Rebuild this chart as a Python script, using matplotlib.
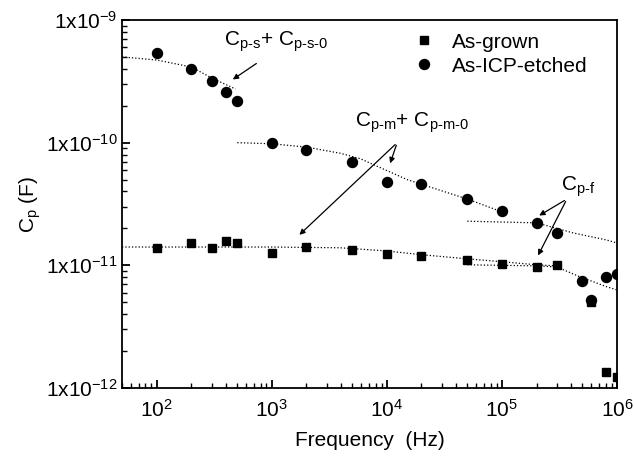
import numpy as np
import matplotlib
matplotlib.use('Agg')
import matplotlib.pyplot as plt

plt.rcParams['font.family'] = 'Liberation Sans'
plt.rcParams['mathtext.fontset'] = 'custom'
plt.rcParams['mathtext.rm'] = 'Liberation Sans'
plt.rcParams['mathtext.it'] = 'Liberation Sans'
plt.rcParams['mathtext.default'] = 'regular'

# As-grown (squares)
grown_f = [100, 200, 300, 400, 500, 1e3, 2e3, 5e3, 1e4, 2e4, 5e4, 1e5, 2e5, 3e5, 6e5, 8e5, 1e6]
grown_c = [1.39e-11, 1.52e-11, 1.39e-11, 1.58e-11, 1.52e-11, 1.26e-11, 1.41e-11, 1.34e-11,
           1.24e-11, 1.19e-11, 1.10e-11, 1.03e-11, 9.7e-12, 1.0e-11, 5.0e-12, 1.35e-12, 1.23e-12]

# As-ICP-etched (circles)
etched_f = [100, 200, 300, 400, 500, 1e3, 2e3, 5e3, 1e4, 2e4, 5e4, 1e5, 2e5, 3e5, 5e5, 6e5, 8e5, 1e6]
etched_c = [5.38e-10, 4.0e-10, 3.18e-10, 2.6e-10, 2.19e-10, 1.0e-10, 8.7e-11, 6.97e-11,
            4.8e-11, 4.6e-11, 3.47e-11, 2.77e-11, 2.22e-11, 1.84e-11, 7.46e-12, 5.2e-12, 8.0e-12, 8.5e-12]

# fitted curves (dotted)
fit_s_f = [50, 100, 200, 300, 484]
fit_s_c = [5.0e-10, 4.72e-10, 4.14e-10, 3.37e-10, 2.74e-10]

fit_m_etched_f = [502, 1e3, 2e3, 3.94e3, 5.88e3, 1.5e4, 5e4, 1e5]
fit_m_etched_c = [1.0e-10, 9.8e-11, 9.2e-11, 8.2e-11, 7.4e-11, 5.0e-11, 3.47e-11, 2.73e-11]

fit_f_etched_f = [5e4, 2e5, 4.14e5, 8.1e5, 1e6]
fit_f_etched_c = [2.29e-11, 2.22e-11, 1.84e-11, 1.61e-11, 1.52e-11]

fit_m_grown_f = [50, 1e3, 3.94e3, 1e4, 2e4, 5e4, 1e5, 2e5, 3e5]
fit_m_grown_c = [1.41e-11, 1.41e-11, 1.39e-11, 1.31e-11, 1.22e-11, 1.13e-11, 1.07e-11, 1.01e-11, 9.9e-12]

fit_f_grown_f = [5e4, 2e5, 3e5, 4.7e5, 8.1e5, 1e6]
fit_f_grown_c = [1.01e-11, 9.9e-12, 9.7e-12, 8.1e-12, 6.7e-12, 6.3e-12]

fig = plt.figure(figsize=(6.34, 4.59), dpi=100)
ax = fig.add_axes([122/634, 1 - 388/459, (617 - 122)/634, (388 - 20)/459])

dot = dict(color='black', linestyle=':', linewidth=0.9)
for f, c in [(fit_s_f, fit_s_c), (fit_m_etched_f, fit_m_etched_c), (fit_f_etched_f, fit_f_etched_c),
             (fit_m_grown_f, fit_m_grown_c), (fit_f_grown_f, fit_f_grown_c)]:
    ax.plot(f, c, **dot)

ax.plot(grown_f, grown_c, 's', color='black', markersize=6.3, label='As-grown', linestyle='none')
ax.plot(etched_f, etched_c, 'o', color='black', markersize=7.2, label='As-ICP-etched', linestyle='none')

ax.set_xscale('log')
ax.set_yscale('log')
ax.set_xlim(50, 1e6)
ax.set_ylim(1e-12, 1e-9)

ax.set_xticks([1e2, 1e3, 1e4, 1e5, 1e6])
ax.set_xticklabels([r'$10^2$', r'$10^3$', r'$10^4$', r'$10^5$', r'$10^6$'])
ax.set_yticks([1e-12, 1e-11, 1e-10, 1e-9])
ax.set_yticklabels([r'1x10$^{-12}$', r'1x10$^{-11}$', r'1x10$^{-10}$', r'1x10$^{-9}$'])

ax.tick_params(which='both', direction='in', top=False, right=False, labelsize=15)
ax.tick_params(which='major', length=6, width=1.3)
ax.tick_params(which='minor', length=3.5, width=1.0)
ax.tick_params(axis='x', pad=8)
ax.tick_params(axis='y', pad=3)
for s in ax.spines.values():
    s.set_linewidth(1.3)

ax.set_xlabel('Frequency  (Hz)', fontsize=15, labelpad=7)
ax.set_ylabel('C$_p$ (F)', fontsize=15, labelpad=2)

ax.legend(loc='upper right', fontsize=15, frameon=False, handletextpad=0.5, handlelength=1.6,
          borderaxespad=0.2, labelspacing=0.25, bbox_to_anchor=(0.965, 1.0))

arr = dict(arrowstyle='-|>', color='black', lw=0.9, mutation_scale=8)
ax.text(1.1e3, 6.6e-10, r'C$_{p\text{-}s}$+ C$_{p\text{-}s\text{-}0}$', fontsize=15, ha='center', va='center')
ax.annotate('', xy=(4.38e2, 3.18e-10), xytext=(7.7e2, 4.55e-10), arrowprops=arr)

ax.text(1.65e4, 1.45e-10, r'C$_{p\text{-}m}$+ C$_{p\text{-}m\text{-}0}$', fontsize=15, ha='center', va='center')
ax.annotate('', xy=(1.05e4, 6.46e-11), xytext=(1.23e4, 1.0e-10), arrowprops=arr)
ax.annotate('', xy=(1.67e3, 1.71e-11), xytext=(1.23e4, 1.0e-10), arrowprops=arr)

ax.text(4.57e5, 4.35e-11, r'C$_{p\text{-}f}$', fontsize=15, ha='center', va='center')
ax.annotate('', xy=(2.01e5, 2.48e-11), xytext=(3.67e5, 3.47e-11), arrowprops=arr)
ax.annotate('', xy=(2.01e5, 1.15e-11), xytext=(3.67e5, 3.47e-11), arrowprops=arr)

fig.savefig('out.png', dpi=100)
